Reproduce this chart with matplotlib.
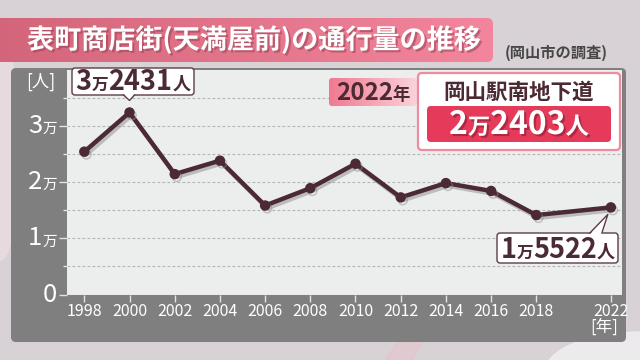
import numpy as np
import matplotlib
matplotlib.use('Agg')
import matplotlib.pyplot as plt
import matplotlib.patheffects as pe
from matplotlib.patches import FancyBboxPatch, Polygon, Ellipse

plt.rcParams['font.family'] = ['Noto Sans CJK JP', 'DejaVu Sans']

# data
years = [1998, 2000, 2002, 2004, 2006, 2008, 2010, 2012, 2014, 2016, 2018, 2022]
visitors = [25450, 32431, 21450, 23850, 15850, 18950, 23300, 17300, 19850, 18450, 14150, 15522]
y_major = [0, 10000, 20000, 30000]
y_minor = [5000, 15000, 25000, 35000]

title = '表町商店街(天満屋前)の通行量の推移'
source = '(岡山市の調査)'
station_year = 2022
station_name = '岡山駅南地下道'
station_count = 22403

W, H = 640, 360
MAROON = '#4b2a33'


def man_parts(v):
    # "3万2431人" style split
    hi, lo = divmod(v, 10000)
    return [str(hi), '万', f'{lo:04d}', '人'] if hi else [str(lo), '人']


fig = plt.figure(figsize=(W / 100, H / 100), dpi=100)
fig.patch.set_facecolor('#d8d1d5')
renderer = fig.canvas.get_renderer()


def rect(x0, y0, x1, y1):
    return [x0 / W, 1 - y1 / H, (x1 - x0) / W, (y1 - y0) / H]


# background layer in pixel coords
bg = fig.add_axes([0, 0, 1, 1], zorder=0)
bg.set_xlim(0, W)
bg.set_ylim(H, 0)
bg.axis('off')
bg.add_patch(Ellipse((640, 372), 190, 80, color='#efedef', alpha=0.9))
bg.add_patch(Polygon([(385, 360), (398, 342), (422, 342), (412, 360)], color='#e6c4cb', alpha=0.6))
bg.add_patch(Ellipse((0, 150), 40, 220, color='#eadde2', alpha=0.8))
bg.add_patch(FancyBboxPatch((11, 68), 615, 274, boxstyle='round,pad=0,rounding_size=5',
                            fc='#7f7f7f', ec='none'))

# plot area
ax = fig.add_axes(rect(66.7, 70, 621.7, 294.5), zorder=1)
ax.set_facecolor('#eceeed')
pos = np.arange(len(years), dtype=float)
pos[-1] = pos[-2] + 1.65  # 2020 gap drawn narrower
ax.set_xlim(-0.39, 11.89)
ax.set_ylim(0, 40000)
for s in ax.spines.values():
    s.set_visible(False)
ax.set_yticks(y_major)
ax.set_yticks(y_minor, minor=True)
ax.set_yticklabels([])
ax.grid(axis='y', which='both', color='#b4b4b4', linestyle=(0, (2.5, 2)), linewidth=0.8)
ax.tick_params(axis='y', which='major', length=6, color='#e4e4e4', width=1)
ax.tick_params(axis='y', which='minor', length=3, color='#e4e4e4', width=1)
ax.set_xticks(pos)
ax.set_xticklabels([str(y) for y in years], color='white', fontsize=11.5)
ax.tick_params(axis='x', length=5, color='#e4e4e4', width=1, pad=1)
ax.set_axisbelow(True)

ax.plot(pos, visitors, color=MAROON, lw=3.2, marker='o', ms=6.5, solid_joinstyle='round',
        path_effects=[pe.SimpleLineShadow(offset=(1.5, -2), shadow_color='#8c8c8c', alpha=0.5),
                      pe.Normal()], clip_on=False, zorder=3)

# overlay layer in pixel coords
ov = fig.add_axes([0, 0, 1, 1], zorder=2)
ov.patch.set_visible(False)
ov.axis('off')


def to_px(x, y):
    dx, dy = ax.transData.transform((x, y))
    return dx, H - dy


def mixed(x, yb, parts, color, ha='center', weight='bold', effects=None, z=6):
    texts, widths = [], []
    for s, size in parts:
        t = ov.text(0, yb, s, fontsize=size, color=color, fontweight=weight,
                    va='baseline', ha='left', zorder=z, path_effects=effects)
        widths.append(t.get_window_extent(renderer).width)
        texts.append(t)
    total = sum(widths)
    cx = x - total / 2 if ha == 'center' else (x - total if ha == 'right' else x)
    for t, w in zip(texts, widths):
        t.set_x(cx)
        cx += w


def gradient_box(x0, y0, x1, y1, c0, c1, r):
    box = FancyBboxPatch((x0, y0), x1 - x0, y1 - y0, boxstyle=f'round,pad=0,rounding_size={r}',
                         fc='none', ec='none', transform=ov.transData)
    ov.add_patch(box)
    grad = np.linspace(0, 1, 256)[None, :]
    cmap = matplotlib.colors.LinearSegmentedColormap.from_list('g', [c0, c1])
    im = ov.imshow(grad, cmap=cmap, extent=(x0, x1, y1, y0), aspect='auto', zorder=4)
    im.set_clip_path(box)


# title
gradient_box(-6, 18, 493, 62, '#d3657b', '#f3869c', 6)
ov.text(27, 40, title, fontsize=19.5, color='white', fontweight='bold', va='center', ha='left',
        zorder=6, path_effects=[pe.withSimplePatchShadow(offset=(1.5, -1.5),
                                                         shadow_rgbFace='#a04459', alpha=0.6)])
ov.text(556, 53, source, fontsize=11, color='#474747', fontweight='bold', va='center',
        ha='center', zorder=6)

# axis units and y tick labels
ov.text(41, 82, '[人]', fontsize=12.5, color='white', va='center', ha='center', zorder=6)
ov.text(604, 327, '[年]', fontsize=12, color='white', va='center', ha='center', zorder=6)
for v in y_major:
    _, py = to_px(0, v)
    parts = [(str(v // 10000), 18.5), ('万', 10.5)] if v else [('0', 18.5)]
    mixed(57, py + 7, parts, 'white', ha='right', weight='normal')


def callout(i, bx0, by0, bx1, by1, base, tip):
    ov.add_patch(FancyBboxPatch((bx0, by0), bx1 - bx0, by1 - by0,
                                boxstyle='round,pad=0,rounding_size=3',
                                fc='white', ec='#5c3c44', lw=1, zorder=4))
    edge_y = by1 if tip[1] > by1 else by0
    inner = edge_y - 1.5 if tip[1] > by1 else edge_y + 1.5
    ov.add_patch(Polygon([(base[0], inner), tip, (base[1], inner)], fc='white', ec='none', zorder=5))
    ov.plot([base[0], tip[0], base[1]], [edge_y, tip[1], edge_y], color='#5c3c44', lw=1, zorder=5)
    p = man_parts(visitors[i])
    mixed((bx0 + bx1) / 2, by1 - 5, [(p[0], 19.5), (p[1], 12), (p[2], 19.5), (p[3], 13)], MAROON)


peak = int(np.argmax(visitors))
px, py = to_px(pos[peak], visitors[peak])
callout(peak, 72, 68, 194, 95, (px - 6, px + 5), (px, py - 12))
lx, ly = to_px(pos[-1], visitors[-1])
callout(len(years) - 1, 497, 233, 618, 263, (lx - 21, lx - 9), (lx - 3, ly + 7))

# 2022 station info
gradient_box(329, 78, 417, 106, '#f17890', '#fbd3da', 3)
mixed(373, 100.5, [(str(station_year), 17.5), ('年', 12.5)], MAROON, z=7)
ov.add_patch(FancyBboxPatch((418, 73), 202, 77, boxstyle='round,pad=0,rounding_size=4',
                            fc='white', ec='#f08aa0', lw=1.6, zorder=4))
ov.text(519, 92, station_name, fontsize=15.5, color=MAROON, fontweight='bold', va='center',
        ha='center', zorder=6)
ov.add_patch(FancyBboxPatch((427, 106), 184, 36, boxstyle='round,pad=0,rounding_size=4',
                            fc='#e53a5a', ec='none', zorder=5))
sp = man_parts(station_count)
mixed(519, 134, [(sp[0], 23), (sp[1], 16), (sp[2], 23), (sp[3], 17)], 'white', z=7,
      effects=[pe.withSimplePatchShadow(offset=(1.5, -1.5), shadow_rgbFace='#8a1d32', alpha=0.6)])

ov.set_xlim(0, W)
ov.set_ylim(H, 0)

fig.savefig('out.png', dpi=100, facecolor=fig.get_facecolor())
